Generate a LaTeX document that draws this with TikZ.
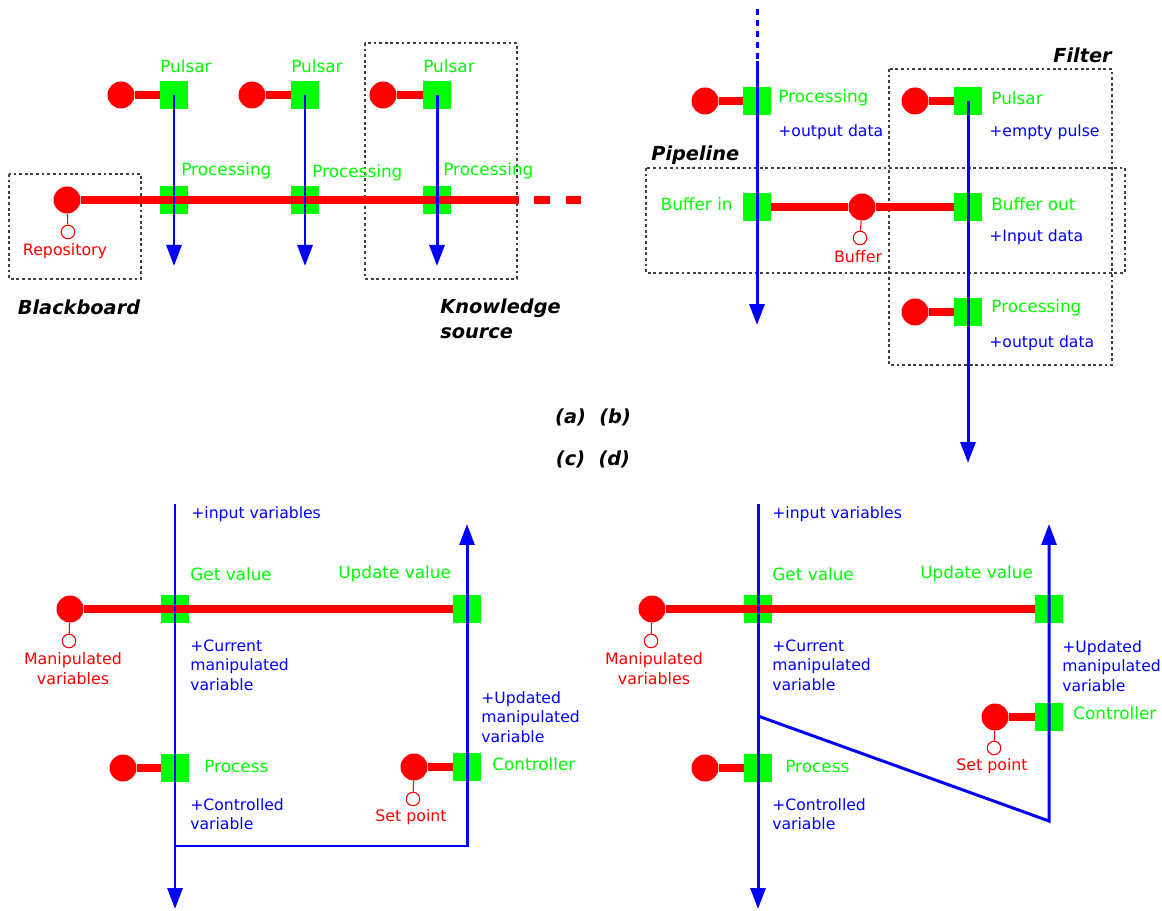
\documentclass[tikz,border=0pt]{standalone}
\usepackage{fontspec}
\setmainfont{DejaVu Sans}
\usetikzlibrary{arrows.meta}

\definecolor{wirered}{RGB}{255,0,0}
\definecolor{portgreen}{RGB}{0,255,0}
\definecolor{flowblue}{RGB}{0,0,255}

\tikzset{
  port/.style={rectangle, fill=portgreen, minimum size=0.56cm, inner sep=0pt},
  comp/.style={circle, fill=wirered, minimum size=0.54cm, inner sep=0pt},
  ring/.style={circle, draw=wirered, fill=white, line width=0.6pt, minimum size=0.27cm, inner sep=0pt},
  wire/.style={draw=wirered, line width=4.3pt},
  stub/.style={draw=wirered, line width=0.6pt},
  link/.style={draw=flowblue, line width=1.7pt},
  flow/.style={link, -{Triangle[length=0.42cm, width=0.3cm]}},
  group/.style={draw=black!75, line width=0.6pt, dash pattern=on 1.6pt off 1.6pt},
  portname/.style={text=portgreen, font=\fontsize{9.6}{11}\selectfont, inner sep=0pt},
  note/.style={text=flowblue, font=\fontsize{8.9}{11}\selectfont, inner sep=0pt, align=left},
  compname/.style={text=wirered, font=\fontsize{9}{11.3}\selectfont, inner sep=0pt, align=center},
  title/.style={font=\fontsize{11}{14.2}\selectfont\bfseries\itshape, inner sep=0pt, align=left}
}

\begin{document}
\begin{tikzpicture}[x=0.02cm, y=-0.02cm]
  \useasboundingbox (0,0) rectangle (1162,911);

  % (a) Draw group boxes
  \draw[group] (9,174) rectangle (141,279);
  \draw[group] (365,43) rectangle (517,279);
  % (a) Draw ports and components
  \node[port] (pa1) at (174,95) {};
  \node[port] (pa2) at (305,95) {};
  \node[port] (pa3) at (437,95) {};
  \node[port] (qa1) at (174,200) {};
  \node[port] (qa2) at (305,200) {};
  \node[port] (qa3) at (437,200) {};
  \node[comp] (ca1) at (121,95) {};
  \node[comp] (ca2) at (252,95) {};
  \node[comp] (ca3) at (383,95) {};
  \node[comp] (repo) at (67,200) {};
  \node[ring] (repor) at (68,232) {};
  \coordinate (aw) at (503,200);
  \coordinate (aend) at (582,200);
  % (a) Draw wires
  \draw[wire] (ca1) -- (pa1);
  \draw[wire] (ca2) -- (pa2);
  \draw[wire] (ca3) -- (pa3);
  \draw[wire] (repo) -- (aw);
  \draw[wire, dash pattern=on 9pt off 8.8pt] (aw) -- (aend);
  \draw[stub] (repo) -- (repor);
  % (a) Draw flows
  \coordinate (fa1) at (174,266);
  \coordinate (fa2) at (305,266);
  \coordinate (fa3) at (437,266);
  \draw[flow] (pa1.center) -- (fa1);
  \draw[flow] (pa2.center) -- (fa2);
  \draw[flow] (pa3.center) -- (fa3);
  % (a) Add labels
  \node[portname, anchor=west] (lpa1) at (160,66) {Pulsar};
  \node[portname, anchor=west] (lpa2) at (291,66) {Pulsar};
  \node[portname, anchor=west] (lpa3) at (423,66) {Pulsar};
  \node[portname, anchor=west] (lqa1) at (181,171) {Processing};
  \node[portname, anchor=west] (lqa2) at (312,173) {Processing};
  \node[portname, anchor=west] (lqa3) at (443,171) {Processing};
  \node[compname] (lrepo) at (65,251) {Repository};
  \node[title] (tbb) at (79,307) {Blackboard};
  \node[title, anchor=west] (tks) at (440,319) {Knowledge\\source};

  % (b) Draw group boxes
  \draw[group] (889,69) rectangle (1112,365);
  \draw[group] (646,168) rectangle (1125,273);
  % (b) Draw ports and components
  \node[port] (pb1) at (757,101) {};
  \node[comp] (cb1) at (705,101) {};
  \node[port] (pf1) at (968,101) {};
  \node[comp] (cf1) at (915,101) {};
  \node[port] (bin) at (757,207) {};
  \node[port] (bout) at (968,207) {};
  \node[comp] (buf) at (862,207) {};
  \node[ring] (bufr) at (860,238) {};
  \node[port] (pf3) at (968,312) {};
  \node[comp] (cf3) at (915,312) {};
  % (b) Draw wires
  \draw[wire] (cb1) -- (pb1);
  \draw[wire] (cf1) -- (pf1);
  \draw[wire] (cf3) -- (pf3);
  \draw[wire] (bin) -- (buf) -- (bout);
  \draw[stub] (buf) -- (bufr);
  % (b) Draw flows
  \coordinate (btop) at (757,9);
  \coordinate (bmid) at (757,61);
  \coordinate (bbot) at (757,325);
  \coordinate (fbot) at (968,463);
  \draw[link, dash pattern=on 3.4pt off 2.8pt] (btop) -- (bmid);
  \draw[flow] (bmid) -- (bbot);
  \draw[flow] (pf1.center) -- (fbot);
  % (b) Add labels
  \node[portname, anchor=west] (lpb1) at (778,98) {Processing};
  \node[note, anchor=west] (npb1) at (778,132) {+output data};
  \node[title, anchor=east] (tfi) at (1112,55) {Filter};
  \node[portname, anchor=west] (lpf1) at (991,98) {Pulsar};
  \node[note, anchor=west] (npf1) at (989,132) {+empty pulse};
  \node[title, anchor=west] (tpi) at (651,155) {Pipeline};
  \node[portname, anchor=east] (lbin) at (733,204) {Buffer in};
  \node[compname] (lbuf) at (858,257) {Buffer};
  \node[portname, anchor=west] (lbout) at (991,204) {Buffer out};
  \node[note, anchor=west] (nbout) at (989,237) {+Input data};
  \node[portname, anchor=west] (lpf3) at (991,308) {Processing};
  \node[note, anchor=west] (npf3) at (989,343) {+output data};

  % Captions
  \node[title] (capab) at (593,417) {(a) \ (b)};
  \node[title] (capcd) at (593,459) {(c) \ (d)};

  % (c) Draw ports and components
  \node[port] (cget) at (175,609) {};
  \node[port] (cupd) at (467,609) {};
  \node[port] (cproc) at (175,768) {};
  \node[port] (cctl) at (467,767) {};
  \node[comp] (cmv) at (70,609) {};
  \node[comp] (cpr) at (123,768) {};
  \node[comp] (csp) at (414,767) {};
  \node[ring] (cmvr) at (69,641) {};
  \node[ring] (cspr) at (413,799) {};
  % (c) Draw wires
  \draw[wire] (cmv) -- (cupd);
  \draw[wire] (cpr) -- (cproc);
  \draw[wire] (csp) -- (cctl);
  \draw[stub] (cmv) -- (cmvr);
  \draw[stub] (csp) -- (cspr);
  % (c) Draw flows
  \coordinate (ctop) at (175,504);
  \coordinate (cbot) at (175,909);
  \coordinate (cret1) at (175,846);
  \coordinate (cret2) at (467,846);
  \coordinate (ctip) at (467,524);
  \draw[flow] (ctop) -- (cbot);
  \draw[flow] (cret1) -- (cret2) -- (ctip);
  % (c) Add labels
  \node[note, anchor=west] (nc1) at (191,514) {+input variables};
  \node[portname, anchor=west] (lcget) at (190,574) {Get value};
  \node[portname, anchor=west] (lcupd) at (338,574) {Update value};
  \node[compname] (lcmv) at (73,669) {Manipulated\\variables};
  \node[note, anchor=west] (nc2) at (190,665) {+Current\\manipulated\\variable};
  \node[note, anchor=west] (nc3) at (481,717) {+Updated\\manipulated\\variable};
  \node[portname, anchor=west] (lcproc) at (204,766) {Process};
  \node[portname, anchor=west] (lcctl) at (492,764) {Controller};
  \node[compname] (lcsp) at (411,817) {Set point};
  \node[note, anchor=west] (nc4) at (190,814) {+Controlled\\variable};

  % (d) Draw ports and components
  \node[port] (dget) at (758,609) {};
  \node[port] (dupd) at (1049,609) {};
  \node[port] (dproc) at (758,768) {};
  \node[port] (dctl) at (1049,717) {};
  \node[comp] (dmv) at (652,609) {};
  \node[comp] (dpr) at (705,768) {};
  \node[comp] (dsp) at (995,717) {};
  \node[ring] (dmvr) at (651,641) {};
  \node[ring] (dspr) at (994,748) {};
  % (d) Draw wires
  \draw[wire] (dmv) -- (dupd);
  \draw[wire] (dpr) -- (dproc);
  \draw[wire] (dsp) -- (dctl);
  \draw[stub] (dmv) -- (dmvr);
  \draw[stub] (dsp) -- (dspr);
  % (d) Draw flows
  \coordinate (dtop) at (758,504);
  \coordinate (dbot) at (758,909);
  \coordinate (dret1) at (758,716);
  \coordinate (dret2) at (1049,821);
  \coordinate (dtip) at (1049,524);
  \draw[flow] (dtop) -- (dbot);
  \draw[flow] (dret1) -- (dret2) -- (dtip);
  % (d) Add labels
  \node[note, anchor=west] (nd1) at (772,514) {+input variables};
  \node[portname, anchor=west] (ldget) at (772,574) {Get value};
  \node[portname, anchor=west] (ldupd) at (920,574) {Update value};
  \node[compname] (ldmv) at (654,669) {Manipulated\\variables};
  \node[note, anchor=west] (nd2) at (772,665) {+Current\\manipulated\\variable};
  \node[note, anchor=west] (nd3) at (1062,666) {+Updated\\manipulated\\variable};
  \node[portname, anchor=west] (ldproc) at (785,766) {Process};
  \node[portname, anchor=west] (ldctl) at (1073,713) {Controller};
  \node[compname] (ldsp) at (992,766) {Set point};
  \node[note, anchor=west] (nd4) at (772,814) {+Controlled\\variable};
\end{tikzpicture}
\end{document}
